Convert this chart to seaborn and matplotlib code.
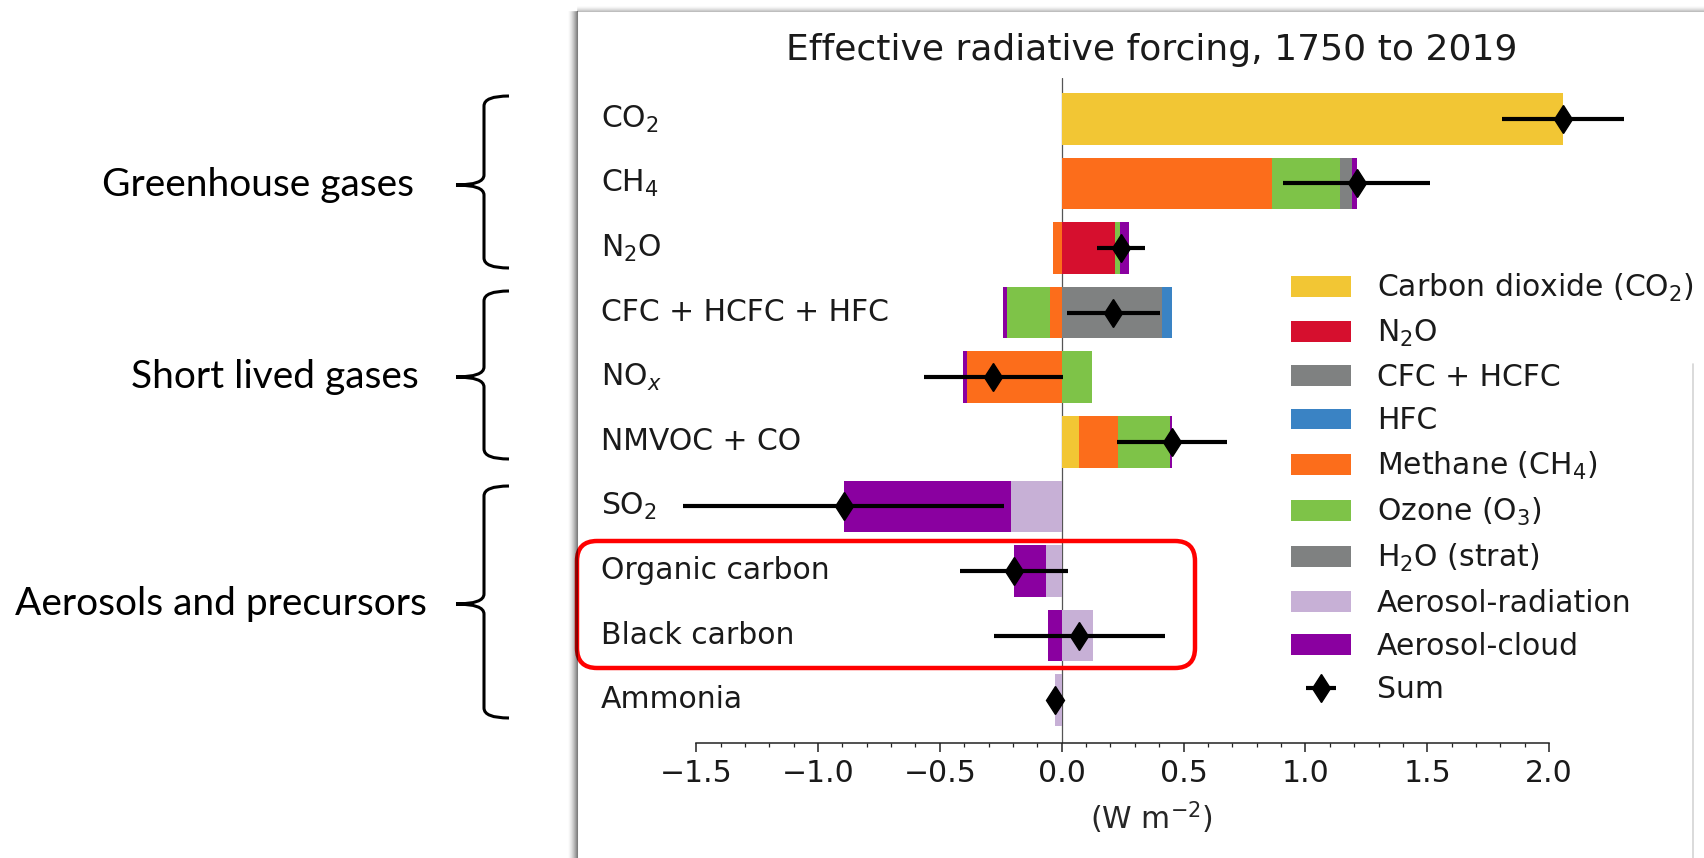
import numpy as np
import pandas as pd
import matplotlib
matplotlib.use("Agg")
import matplotlib.pyplot as plt
import seaborn as sns
from matplotlib.patches import Patch, FancyBboxPatch, PathPatch
from matplotlib.path import Path
from matplotlib.lines import Line2D
from matplotlib.transforms import IdentityTransform, ScaledTranslation
from matplotlib.ticker import FixedLocator

# Forcing agents, top to bottom
agents = ["CO$_2$", "CH$_4$", "N$_2$O", "CFC + HCFC + HFC", "NO$_x$", "NMVOC + CO",
          "SO$_2$", "Organic carbon", "Black carbon", "Ammonia"]

# Contribution of each forcing component to every agent (W m-2)
co2 = [2.057, 0, 0, 0, 0, 0.072, 0, 0, 0, 0]
n2o = [0, 0, 0.220, 0, 0, 0, 0, 0, 0, 0]
cfc_hcfc = [0, 0, 0, 0.410, 0, 0, 0, 0, 0, 0]
hfc = [0, 0, 0, 0.041, 0, 0, 0, 0, 0, 0]
ch4 = [0, 0.862, -0.035, -0.048, -0.387, 0.160, 0, 0, 0, 0]
o3 = [0, 0.280, 0.018, -0.175, 0.123, 0.213, 0, 0, 0, 0]
h2o_strat = [0, 0.048, 0, 0, 0, 0, 0, 0, 0, 0]
aer_rad = [0, 0, 0, 0, 0, 0, -0.207, -0.063, 0.130, -0.027]
aer_cloud = [0, 0.020, 0.040, -0.016, -0.016, 0.008, -0.688, -0.133, -0.058, 0]

# Half-width of the uncertainty range of each total
uncertainty = [0.25, 0.30, 0.10, 0.19, 0.285, 0.225, 0.66, 0.22, 0.35, 0.02]

component_labels = ["Carbon dioxide (CO$_2$)", "N$_2$O", "CFC + HCFC", "HFC",
                    "Methane (CH$_4$)", "Ozone (O$_3$)", "H$_2$O (strat)",
                    "Aerosol-radiation", "Aerosol-cloud"]
component_colors = ["#F2C634", "#D60F2E", "#7F8181", "#3A83C4", "#FC6D1B",
                    "#7EC348", "#7F8181", "#C7B0D6", "#8A00A0"]

group_labels = ["Greenhouse gases", "Short lived gases", "Aerosols and precursors"]

# ---------------------------------------------------------------- figure
W, H, DPI = 1704, 858, 100
sns.set_theme(style="ticks")
plt.rcParams["font.family"] = ["DejaVu Sans"]
plt.rcParams["mathtext.fontset"] = "dejavusans"
plt.rcParams["font.size"] = 21.5
plt.rcParams["text.color"] = "#1a1a1a"

fig = plt.figure(figsize=(W / DPI, H / DPI), dpi=DPI)
fig.patch.set_facecolor("white")

# axes placement in pixels
x0_px, px_per_unit = 1061.7, 243.7
xlim = (-1.6, 2.34)
ax_left = x0_px + xlim[0] * px_per_unit
ax_right = x0_px + xlim[1] * px_per_unit
ax_top, ax_bottom = 78, 743
ax = fig.add_axes([ax_left / W, 1 - ax_bottom / H, (ax_right - ax_left) / W,
                   (ax_bottom - ax_top) / H])
ax.set_facecolor("none")

comp = np.array([co2, n2o, cfc_hcfc, hfc, ch4, o3, h2o_strat, aer_rad, aer_cloud])
pos_cum = np.cumsum(np.clip(comp, 0, None), axis=0)
neg_cum = np.cumsum(np.clip(comp, None, 0), axis=0)
totals = comp.sum(axis=0)

# stacked bars: outer segments first, inner segments drawn on top
for i in reversed(range(len(comp))):
    for cum, sign in ((pos_cum, 1), (neg_cum, -1)):
        layer = pd.DataFrame({"agent": agents, "value": cum[i], "part": comp[i]})
        layer = layer[layer["part"] * sign > 0]
        if layer.empty:
            continue
        sns.barplot(data=layer, x="value", y="agent", order=agents, orient="h",
                    color=component_colors[i], saturation=1, width=0.8,
                    linewidth=0, errorbar=None, ax=ax, zorder=2)

ax.axvline(0, color="#555555", lw=0.9, zorder=1)

sum_bars = ax.errorbar(totals, np.arange(len(agents)), xerr=uncertainty, fmt="d",
                       color="black", ms=14.5, elinewidth=3, capsize=0, zorder=5)

ax.set_xlim(*xlim)
ax.set_ylim(9.662, -0.632)
sns.despine(ax=ax, left=True)
ax.spines["bottom"].set_bounds(-1.5, 2.0)
ax.spines["bottom"].set_linewidth(1.1)
ax.spines["bottom"].set_color("#222222")
ax.set_xticks([-1.5, -1.0, -0.5, 0.0, 0.5, 1.0, 1.5, 2.0])
ax.xaxis.set_minor_locator(FixedLocator(np.round(np.arange(-1.5, 2.001, 0.1), 2)))
ax.tick_params(axis="x", which="major", length=6.5, width=1.1, color="#222222",
               pad=5, labelsize=21.5, labelcolor="#1a1a1a")
ax.tick_params(axis="x", which="minor", length=3, width=0.9, color="#222222")
ax.set_yticks(range(len(agents)))
ax.set_yticklabels(agents, ha="left")
ax.tick_params(axis="y", length=0, pad=(ax_left - 601) * 72 / DPI, labelsize=21.5,
               labelcolor="#1a1a1a")
lift = ScaledTranslation(0, 2.4 / 72, fig.dpi_scale_trans)
for lab in ax.get_yticklabels():
    lab.set_transform(lab.get_transform() + lift)
ax.set_ylabel("")
ax.set_xlabel("(W m$^{-2}$)", fontsize=21.5, labelpad=8)
ax.set_title("Effective radiative forcing, 1750 to 2019", fontsize=26, pad=13)

handles = [Patch(facecolor=c, edgecolor="none") for c in component_colors] + [sum_bars]
ax.legend(handles, component_labels + ["Sum"], loc="upper left",
          bbox_to_anchor=(1291 / W, 1 - 271.5 / H), bbox_transform=fig.transFigure,
          frameon=False, borderpad=0, borderaxespad=0, handlelength=2.0,
          handleheight=0.7, handletextpad=0.87, labelspacing=0.477, fontsize=21.5)

# ---------------------------------------------------------------- overlay (pixel coords, y down)
pix = IdentityTransform()


def P(x, y):
    return (x, H - y)


def vline(x, y0, y1, **kw):
    (xa, ya), (xb, yb) = P(x, y0), P(x, y1)
    fig.add_artist(Line2D([xa, xb], [ya, yb], transform=pix, **kw))


def hline(y, x0, x1, **kw):
    (xa, ya), (xb, yb) = P(x0, y), P(x1, y)
    fig.add_artist(Line2D([xa, xb], [ya, yb], transform=pix, **kw))


# shadowed frame of the chart panel
for k in range(10):
    vline(577 - k, 11, H, color="black", alpha=0.5 * (1 - k / 10) ** 1.6, lw=0.75)
for k in range(6):
    hline(11 - k, 577, W, color="black", alpha=0.25 * (1 - k / 6) ** 1.6, lw=0.75)
vline(1693, 364, H, color="#d4d4d4", lw=1.2)

# red highlight round the carbonaceous aerosols
bx0, by0, bx1, by1 = 577, 541, 1195, 668
fig.add_artist(FancyBboxPatch(P(bx0, by1), bx1 - bx0, by1 - by0,
                              boxstyle="round,pad=0,rounding_size=20", transform=pix,
                              facecolor="none", edgecolor="#FF0000", lw=3.2))


def brace(top, bottom, mid, x_line=484, x_tip=456, x_end=509, r=10):
    verts = [P(x_end, top), P(x_line, top), P(x_line, top + r),
             P(x_line, mid - r), P(x_line, mid), P(x_tip, mid),
             P(x_tip, mid), P(x_line, mid), P(x_line, mid + r),
             P(x_line, bottom - r), P(x_line, bottom), P(x_end, bottom)]
    codes = [Path.MOVETO, Path.CURVE3, Path.CURVE3,
             Path.LINETO, Path.CURVE3, Path.CURVE3,
             Path.MOVETO, Path.CURVE3, Path.CURVE3,
             Path.LINETO, Path.CURVE3, Path.CURVE3]
    fig.add_artist(PathPatch(Path(verts, codes), transform=pix, facecolor="none",
                             edgecolor="black", lw=2.2, capstyle="butt"))


brace_spans = [(96, 268, 185), (291, 459, 377), (486, 718, 604)]
label_right = [414, 419, 427]
for (top, bottom, mid), text, xr in zip(brace_spans, group_labels, label_right):
    brace(top, bottom, mid)
    fig.text(xr / W, 1 - mid / H, text, ha="right", va="center", fontsize=28,
             family=["Lato", "DejaVu Sans"], color="black")

fig.savefig("out.png", dpi=DPI, facecolor="white")
